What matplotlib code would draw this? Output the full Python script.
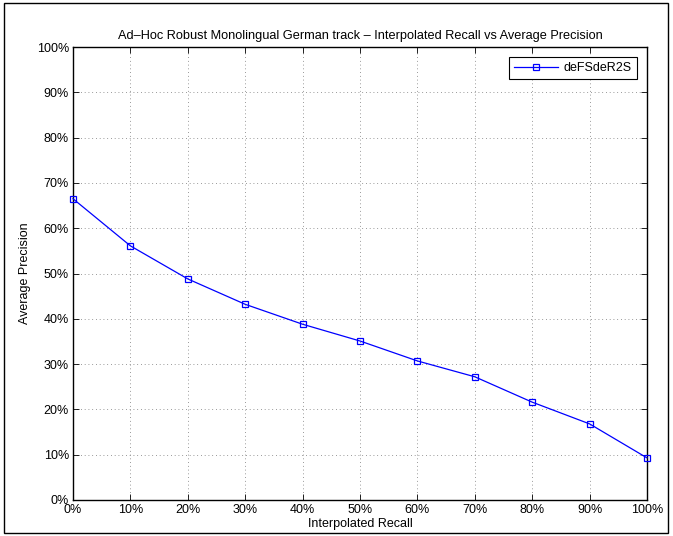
import matplotlib
matplotlib.use("Agg")
import matplotlib.pyplot as plt
from matplotlib.patches import Rectangle
from matplotlib.ticker import FuncFormatter

plt.rcParams['font.family'] = ['Liberation Sans', 'DejaVu Sans']

recall = [0, 10, 20, 30, 40, 50, 60, 70, 80, 90, 100]
precision = [66.5, 56.1, 48.8, 43.2, 38.8, 35.1, 30.7, 27.2, 21.6, 16.8, 9.3]
series_name = "deFSdeR2S"
title = "Ad\u2013Hoc Robust Monolingual German track \u2013 Interpolated Recall vs Average Precision"

fig = plt.figure(figsize=(6.73, 5.36), dpi=100)
fig.patches.append(Rectangle((4/673, 3/536), 664/673, 530/536, transform=fig.transFigure,
                             fill=False, edgecolor='black', linewidth=1.0))
ax = fig.add_axes([73/673, 36/536, 574/673, 453/536])
ax.plot(recall, precision, color='#0000ff', marker='s', markersize=5,
        markerfacecolor='none', markeredgecolor='#0000ff', linewidth=0.9,
        markeredgewidth=0.9, label=series_name, clip_on=False, zorder=5)
ax.set_xlim(0, 100)
ax.set_ylim(0, 100)
ticks = list(range(0, 101, 10))
ax.set_xticks(ticks)
ax.set_yticks(ticks)
fmt = FuncFormatter(lambda v, p: f"{int(v)}%")
ax.xaxis.set_major_formatter(fmt)
ax.yaxis.set_major_formatter(fmt)
ax.tick_params(direction='in', top=True, right=True, labelsize=9, length=4, width=0.6, pad=3)
ax.grid(True, linestyle=(0, (1, 3.5)), color='#777777', linewidth=0.6)
for s in ax.spines.values():
    s.set_linewidth(1.0)
ax.set_xlabel("Interpolated Recall", fontsize=9, labelpad=1)
ax.set_ylabel("Average Precision", fontsize=9, labelpad=4)
ax.set_title(title, fontsize=9.2, pad=6)
leg = ax.legend(loc='upper right', fontsize=9, fancybox=False, framealpha=1,
                edgecolor='black', borderaxespad=0.8, handlelength=3.5, handletextpad=0.5)
leg.get_frame().set_linewidth(0.8)
fig.savefig("out.png", dpi=100)
